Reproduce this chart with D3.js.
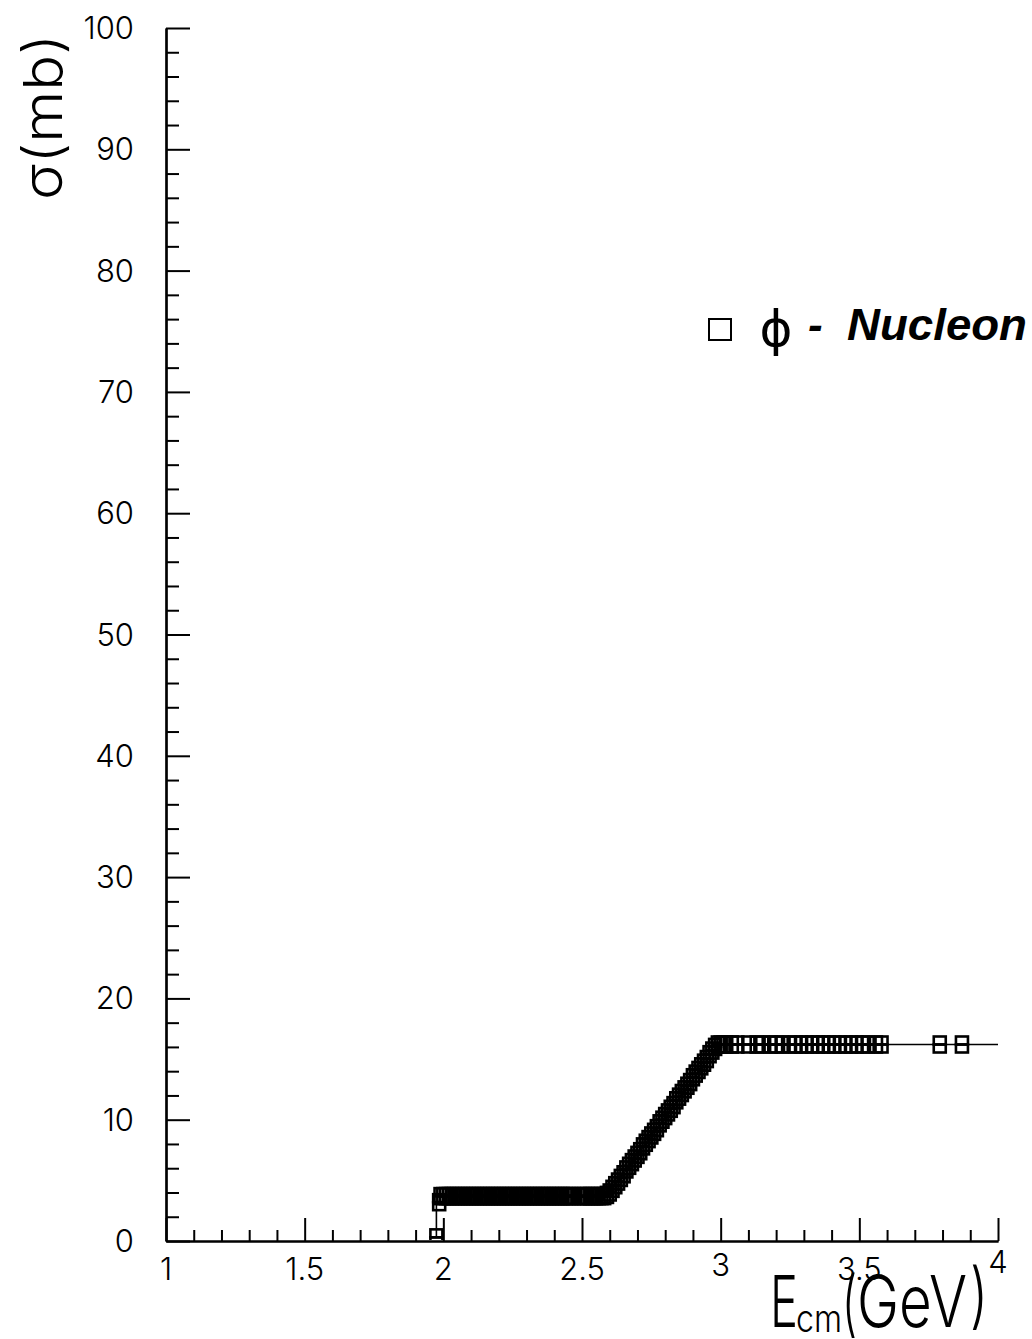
<!DOCTYPE html>
<html>
<head>
<meta charset="utf-8">
<script src="https://cdn.jsdelivr.net/npm/d3@7"></script>
<style>
  html, body { margin: 0; padding: 0; background: #fff; }
  svg { display: block; }
  text { fill: #000; }
</style>
</head>
<body>
<svg id="chart" width="1032" height="1339"></svg>
<script>
// phi-nucleon cross section versus centre-of-mass energy
const energy = [
  1.975, 1.985,
  1.99, 2.00, 2.01, 2.02, 2.03, 2.04, 2.05, 2.06, 2.07, 2.08, 2.09, 2.10,
  2.11, 2.12, 2.13, 2.14, 2.15, 2.16, 2.17, 2.18, 2.19, 2.20, 2.21, 2.22,
  2.23, 2.24, 2.25, 2.26, 2.27, 2.28, 2.29, 2.30, 2.31, 2.32, 2.33, 2.34,
  2.35, 2.36, 2.37, 2.38, 2.39, 2.40, 2.41, 2.42, 2.43, 2.44, 2.45, 2.46,
  2.47, 2.49, 2.50, 2.51, 2.52, 2.53, 2.54, 2.55, 2.56, 2.57, 2.58, 2.59,
  2.60, 2.61, 2.62, 2.63, 2.64, 2.65, 2.66, 2.67, 2.68, 2.69, 2.70, 2.71,
  2.72, 2.73, 2.74, 2.75, 2.76, 2.77, 2.78, 2.79, 2.80, 2.81, 2.82, 2.83,
  2.84, 2.85, 2.86, 2.87, 2.88, 2.89, 2.90, 2.91, 2.92, 2.93, 2.94, 2.95,
  2.96, 2.97, 2.98, 2.99,
  3.00, 3.01, 3.02, 3.04, 3.06, 3.10, 3.13, 3.15, 3.18, 3.20, 3.22, 3.25,
  3.27, 3.29, 3.31, 3.33, 3.35, 3.37, 3.39, 3.41, 3.43, 3.45, 3.47, 3.49,
  3.51, 3.53, 3.56, 3.58,
  3.79, 3.87
];
const sigma = [
  0.3, 3.2,
  3.7, 3.7, 3.7, 3.7, 3.7, 3.7, 3.7, 3.7, 3.7, 3.7, 3.7, 3.7,
  3.7, 3.7, 3.7, 3.7, 3.7, 3.7, 3.7, 3.7, 3.7, 3.7, 3.7, 3.7,
  3.7, 3.7, 3.7, 3.7, 3.7, 3.7, 3.7, 3.7, 3.7, 3.7, 3.7, 3.7,
  3.7, 3.7, 3.7, 3.7, 3.7, 3.7, 3.7, 3.7, 3.7, 3.7, 3.7, 3.7,
  3.7, 3.7, 3.7, 3.7, 3.7, 3.7, 3.7, 3.7, 3.7, 3.7, 3.7, 3.8,
  4.0, 4.3, 4.6, 4.9, 5.2, 5.5, 5.9, 6.2, 6.5, 6.8, 7.1, 7.4,
  7.8, 8.1, 8.4, 8.7, 9.0, 9.3, 9.7, 10.0, 10.3, 10.6, 10.9, 11.2,
  11.6, 11.9, 12.2, 12.5, 12.8, 13.1, 13.5, 13.8, 14.1, 14.4, 14.7, 15.0,
  15.4, 15.7, 16.0, 16.2,
  16.2, 16.2, 16.2, 16.2, 16.2, 16.2, 16.2, 16.2, 16.2, 16.2, 16.2, 16.2,
  16.2, 16.2, 16.2, 16.2, 16.2, 16.2, 16.2, 16.2, 16.2, 16.2, 16.2, 16.2,
  16.2, 16.2, 16.2, 16.2,
  16.2, 16.2
];
// knots of the parametrised curve drawn under the points
const curveE     = [1.975, 1.975, 1.985, 1.99, 2.59, 2.99, 4.00];
const curveSigma = [0.3,   3.2,   3.2,   3.7,  3.7,  16.2, 16.2];

const xMajor = [1, 1.5, 2, 2.5, 3, 3.5, 4];
const xLabels = ["1", "1.5", "2", "2.5", "3", "3.5", "4"];
const xMinor = [1.1, 1.2, 1.3, 1.4, 1.6, 1.7, 1.8, 1.9, 2.1, 2.2, 2.3, 2.4,
                2.6, 2.7, 2.8, 2.9, 3.1, 3.2, 3.3, 3.4, 3.6, 3.7, 3.8, 3.9];
const yMajor = [0, 10, 20, 30, 40, 50, 60, 70, 80, 90, 100];
const yLabels = ["0", "10", "20", "30", "40", "50", "60", "70", "80", "90", "100"];
const yMinor = [2, 4, 6, 8, 12, 14, 16, 18, 22, 24, 26, 28, 32, 34, 36, 38,
                42, 44, 46, 48, 52, 54, 56, 58, 62, 64, 66, 68, 72, 74, 76, 78,
                82, 84, 86, 88, 92, 94, 96, 98];
const legendLabel = "Nucleon";

const svg = d3.select("#chart");
svg.append("rect").attr("width", 1032).attr("height", 1339).attr("fill", "#fff");

const x = d3.scaleLinear().domain([1, 4]).range([166, 998]);
const y = d3.scaleLinear().domain([0, 100]).range([1241, 28]);
const x0 = x.range()[0], y0 = y.range()[0];

const font = "'Liberation Sans', Arial, Helvetica, sans-serif";
const thinFont = "Inter, 'Liberation Sans', sans-serif";

function styleAxis(g) {
  g.selectAll("path").attr("stroke", "#000").attr("stroke-width", 2.2);
  g.selectAll("line").attr("stroke", "#000").attr("stroke-width", 2);
  g.selectAll("text").remove();
}

// x axis: inward ticks
svg.append("g").attr("transform", `translate(0,${y0})`)
  .call(d3.axisBottom(x).tickValues(xMinor).tickSize(-11).tickSizeOuter(0).tickFormat(""))
  .call(styleAxis);
svg.append("g").attr("transform", `translate(0,${y0})`)
  .call(d3.axisBottom(x).tickValues(xMajor).tickSize(-23).tickSizeOuter(0).tickFormat(""))
  .call(styleAxis);

// y axis: inward ticks
svg.append("g").attr("transform", `translate(${x0},0)`)
  .call(d3.axisLeft(y).tickValues(yMinor).tickSize(-13).tickSizeOuter(0).tickFormat(""))
  .call(styleAxis);
svg.append("g").attr("transform", `translate(${x0},0)`)
  .call(d3.axisLeft(y).tickValues(yMajor).tickSize(-24).tickSizeOuter(0).tickFormat(""))
  .call(styleAxis);

// tick labels
svg.append("g").selectAll("text").data(xMajor).join("text")
  .attr("x", d => x(d))
  .attr("y", (d, i) => i === xMajor.length - 1 ? 1273 : (i === 4 ? 1276 : 1280))
  .attr("text-anchor", "middle")
  .attr("font-family", thinFont).attr("font-weight", 300).attr("font-size", 31)
  .text((d, i) => xLabels[i]);

svg.append("g").selectAll("text").data(yMajor).join("text")
  .attr("x", 134)
  .attr("y", d => y(d) + 11)
  .attr("text-anchor", "end")
  .attr("font-family", thinFont).attr("font-weight", 300).attr("font-size", 31)
  .text((d, i) => yLabels[i]);

// curve
const line = d3.line().x(d => x(d[0])).y(d => y(d[1]));
svg.append("path")
  .datum(curveE.map((e, i) => [e, curveSigma[i]]))
  .attr("d", line)
  .attr("fill", "none").attr("stroke", "#000").attr("stroke-width", 1.6);

// points, kept above the x axis
svg.append("clipPath").attr("id", "plotArea")
  .append("rect").attr("x", x0).attr("y", 0).attr("width", 900).attr("height", y0 - 1);

const pts = energy.map((e, i) => [e, sigma[i]]);
const markers = svg.append("g").attr("clip-path", "url(#plotArea)");
[-4, 4].forEach(off => {
  markers.append("g").selectAll("rect").data(pts).join("rect")
    .attr("x", d => x(d[0]) - 6)
    .attr("y", d => y(d[1]) + off - 4)
    .attr("width", 12).attr("height", 8)
    .attr("fill", "none")
    .attr("stroke", "#000").attr("stroke-width", 2.6);
});

// legend
svg.append("rect").attr("x", 709).attr("y", 319).attr("width", 22).attr("height", 21)
  .attr("fill", "none").attr("stroke", "#000").attr("stroke-width", 2);
svg.append("text").attr("x", 776).attr("y", 346).attr("text-anchor", "middle")
  .attr("font-family", "'DejaVu Sans', sans-serif").attr("font-size", 50)
  .text("\u03D5");
svg.append("text").attr("x", 808).attr("y", 340)
  .attr("font-family", font).attr("font-size", 44).attr("font-weight", "bold").attr("font-style", "italic")
  .text("-");
svg.append("text").attr("x", 847).attr("y", 340)
  .attr("font-family", font).attr("font-size", 44).attr("font-weight", "bold").attr("font-style", "italic")
  .attr("textLength", 180).attr("lengthAdjust", "spacingAndGlyphs")
  .text(legendLabel);

// axis titles
const xt = svg.append("g").attr("font-family", thinFont).attr("font-weight", 300);
xt.append("text").attr("x", 770).attr("y", 1327).attr("font-size", 72)
  .attr("textLength", 28).attr("lengthAdjust", "spacingAndGlyphs").text("E");
xt.append("text").attr("x", 796).attr("y", 1332).attr("font-size", 38)
  .attr("textLength", 46).attr("lengthAdjust", "spacingAndGlyphs").text("cm");
xt.append("text").attr("x", 842).attr("y", 1328).attr("font-size", 72)
  .attr("textLength", 15).attr("lengthAdjust", "spacingAndGlyphs").text("(");
xt.append("text").attr("x", 857).attr("y", 1327).attr("font-size", 72)
  .attr("textLength", 110).attr("lengthAdjust", "spacingAndGlyphs").text("GeV");
xt.append("text").attr("x", 970).attr("y", 1320).attr("font-size", 72)
  .attr("textLength", 18).attr("lengthAdjust", "spacingAndGlyphs").text(")");

svg.append("text")
  .attr("transform", "translate(62,200) rotate(-90)")
  .attr("font-family", thinFont).attr("font-weight", 300).attr("font-size", 54)
  .attr("textLength", 166).attr("lengthAdjust", "spacingAndGlyphs")
  .text("\u03C3(mb)");
</script>
</body>
</html>
